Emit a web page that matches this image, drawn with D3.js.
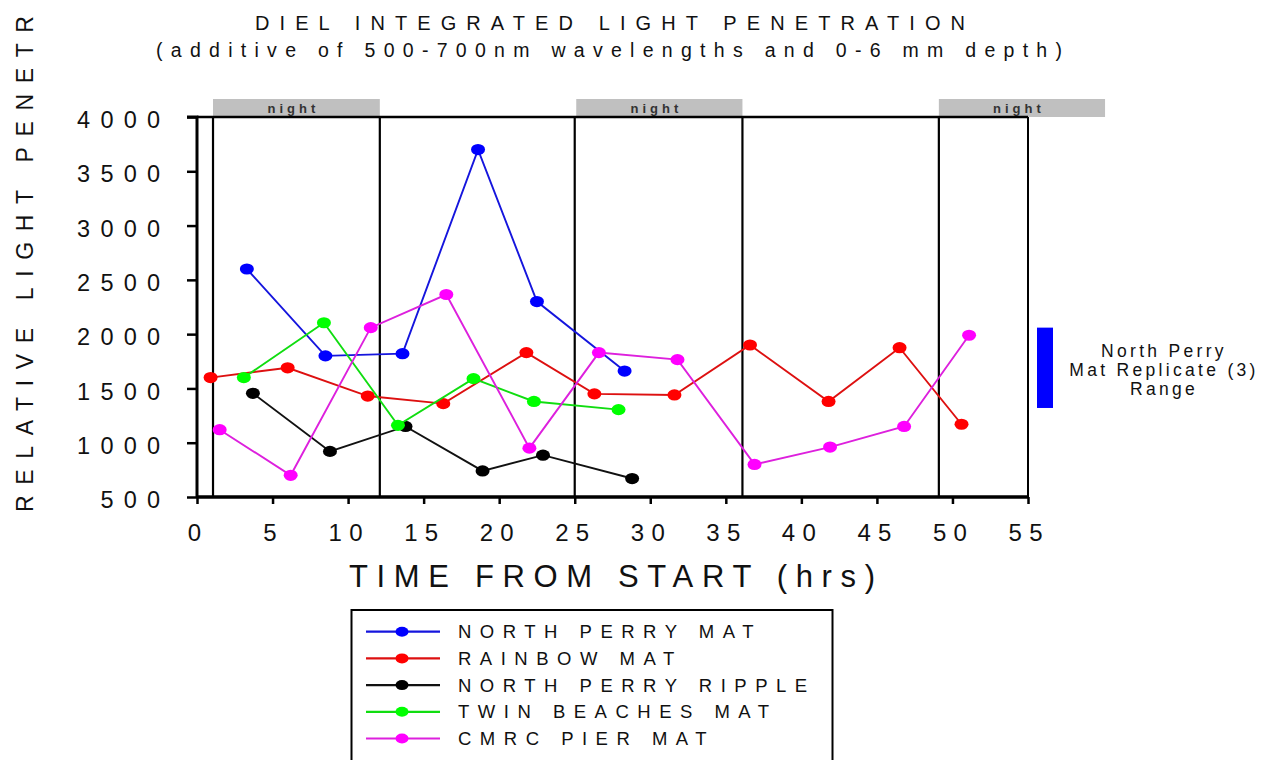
<!DOCTYPE html>
<html><head><meta charset="utf-8">
<script src="https://cdn.jsdelivr.net/npm/d3@7"></script>
<style>
body{margin:0;background:#fff;}
svg{display:block;}
text{font-family:"Liberation Sans", Arial, sans-serif;}
</style>
</head><body>
<svg id="chart" width="1276" height="760"></svg>
<script>
// ---------- DATA ----------
const titleText = "DIEL INTEGRATED LIGHT PENETRATION";
const subtitleText = "(additive of 500-700nm wavelengths and 0-6 mm depth)";
const xLabelText = "TIME FROM START (hrs)";
const yLabelText = "RELATIVE LIGHT PENETR";   // as visible in the reference (clipped there)
const xTicks = [0, 5, 10, 15, 20, 25, 30, 35, 40, 45, 50, 55];
const yTicks = [500, 1000, 1500, 2000, 2500, 3000, 3500, 4000];
const nightPeriods = [[1.06, 12.1], [25.1, 36.1], [49.1, 60.1]];
const nightLabel = "night";
const dividerTimes = [1.06, 12.1, 25.0, 36.1, 49.1];

const seriesNames = ["NORTH PERRY MAT", "RAINBOW MAT", "NORTH PERRY RIPPLE", "TWIN BEACHES MAT", "CMRC PIER MAT"];
const markerColors = ["#0000ff", "#ff0000", "#000000", "#00ff00", "#ff00ff"];
const lineColors = ["#1515dd", "#dd1010", "#111111", "#10dd10", "#dd20dd"];

const northPerryMatTime = [3.3, 8.5, 13.6, 18.6, 22.5, 28.3];
const northPerryMatValue = [2600, 1800, 1820, 3700, 2300, 1660];
const rainbowMatTime = [0.9, 6.0, 11.3, 16.3, 21.8, 26.3, 31.6, 36.6, 41.8, 46.5, 50.6];
const rainbowMatValue = [1600, 1690, 1430, 1360, 1830, 1450, 1440, 1900, 1380, 1875, 1170];
const northPerryRippleTime = [3.7, 8.8, 13.8, 18.9, 22.9, 28.8];
const northPerryRippleValue = [1455, 920, 1150, 740, 885, 670];
const twinBeachesMatTime = [3.1, 8.4, 13.3, 18.3, 22.3, 27.9];
const twinBeachesMatValue = [1600, 2105, 1160, 1590, 1380, 1305];
const cmrcPierMatTime = [1.5, 6.2, 11.5, 16.5, 22.0, 26.6, 31.8, 36.9, 41.9, 46.8, 51.1];
const cmrcPierMatValue = [1120, 700, 2060, 2365, 950, 1830, 1765, 800, 960, 1150, 1990];

const replicateRange = [1320, 2060];
const replicateLabel = ["North Perry", "Mat Replicate (3)", "Range"];

// ---------- BUILD ----------
const seriesTimes = [northPerryMatTime, rainbowMatTime, northPerryRippleTime, twinBeachesMatTime, cmrcPierMatTime];
const seriesValues = [northPerryMatValue, rainbowMatValue, northPerryRippleValue, twinBeachesMatValue, cmrcPierMatValue];
const series = seriesNames.map((name, i) => ({
  name, marker: markerColors[i], line: lineColors[i],
  points: seriesTimes[i].map((t, j) => ({t, v: seriesValues[i][j]}))
}));

const svg = d3.select("#chart");
const x = d3.scaleLinear().domain([0, 55]).range([197, 1028]);
const y = d3.scaleLinear().domain([500, 4000]).range([497, 117]);

// Titles
svg.append("text").attr("x", 610).attr("y", 30).attr("text-anchor", "middle")
  .attr("font-size", 20).attr("textLength", 710).attr("lengthAdjust", "spacing")
  .attr("fill", "#111").text(titleText);
svg.append("text").attr("x", 609).attr("y", 57).attr("text-anchor", "middle")
  .attr("font-size", 19.5).attr("textLength", 906).attr("lengthAdjust", "spacing")
  .attr("fill", "#111").text(subtitleText);

// Night bars
const nights = svg.append("g");
nights.selectAll("rect").data(nightPeriods).join("rect")
  .attr("x", d => x(d[0])).attr("width", d => x(d[1]) - x(d[0]))
  .attr("y", 99).attr("height", 18).attr("fill", "#c0c0c0");
nights.selectAll("text").data(nightPeriods).join("text")
  .attr("x", d => (x(d[0]) + x(d[1])) / 2 - 3).attr("y", 113)
  .attr("text-anchor", "middle").attr("font-size", 13).attr("font-weight", "bold")
  .attr("letter-spacing", "4px").attr("fill", "#333").text(nightLabel);

// Frame: top and right
svg.append("line").attr("x1", x(0)).attr("x2", x(55)).attr("y1", y(4000)).attr("y2", y(4000))
  .attr("stroke", "#000").attr("stroke-width", 2.5);
svg.append("line").attr("x1", x(55)).attr("x2", x(55)).attr("y1", y(4000)).attr("y2", y(500))
  .attr("stroke", "#000").attr("stroke-width", 2);

// Divider lines
svg.append("g").selectAll("line").data(dividerTimes).join("line")
  .attr("x1", d => x(d)).attr("x2", d => x(d)).attr("y1", y(4000)).attr("y2", y(500))
  .attr("stroke", "#000").attr("stroke-width", 2.2);

// Axes
const yAxis = d3.axisLeft(y).tickValues(yTicks).tickSize(10).tickPadding(27).tickFormat(d3.format("d"));
const gy = svg.append("g").attr("transform", `translate(${x(0)},0)`).call(yAxis);
gy.select(".domain").attr("stroke-width", 3).attr("d", `M-10,${y(4000)}H0V${y(500)}`);
gy.selectAll(".tick line").attr("stroke-width", 2.5);
gy.selectAll(".tick text").attr("font-size", 23.5).attr("font-family", "Liberation Sans, Arial, sans-serif")
  .attr("dy", "0.45em").attr("fill", "#111")
  .attr("textLength", d => 13 + (String(d).length - 1) * 23.3).attr("lengthAdjust", "spacing");

const xAxis = d3.axisBottom(x).tickValues(xTicks).tickSize(7).tickPadding(20).tickFormat(d3.format("d"));
const gx = svg.append("g").attr("transform", `translate(0,${y(500)})`).call(xAxis);
gx.select(".domain").attr("stroke-width", 3.5).attr("d", `M${x(0)},0H${x(55)}`);
gx.selectAll(".tick line").attr("stroke-width", 2.5);
gx.selectAll(".tick text").attr("font-size", 24).attr("font-family", "Liberation Sans, Arial, sans-serif")
  .attr("fill", "#111").attr("dx", -3)
  .each(function(d){ if (String(d).length > 1) d3.select(this).attr("textLength", 34).attr("lengthAdjust", "spacing"); });

// Axis labels
svg.append("text").attr("x", 612).attr("y", 587).attr("text-anchor", "middle")
  .attr("font-size", 31).attr("textLength", 526).attr("lengthAdjust", "spacing")
  .attr("fill", "#111").text(xLabelText);
svg.append("text").attr("transform", "translate(33,512) rotate(-90)").attr("text-anchor", "start")
  .attr("font-size", 23).attr("textLength", 496).attr("lengthAdjust", "spacing")
  .attr("fill", "#111").text(yLabelText);

// Series
const line = d3.line().x(d => x(d.t)).y(d => y(d.v));
const gs = svg.append("g");
series.forEach(s => {
  gs.append("path").datum(s.points).attr("d", line).attr("fill", "none")
    .attr("stroke", s.line).attr("stroke-width", 1.9);
  gs.append("g").selectAll("ellipse").data(s.points).join("ellipse")
    .attr("cx", d => x(d.t)).attr("cy", d => y(d.v)).attr("rx", 7).attr("ry", 5.6)
    .attr("fill", s.marker);
});

// Replicate range bar
svg.append("rect").attr("x", 1037).attr("width", 16)
  .attr("y", y(replicateRange[1])).attr("height", y(replicateRange[0]) - y(replicateRange[1]))
  .attr("fill", "#0000ff");
svg.append("g").selectAll("text").data(replicateLabel).join("text")
  .attr("x", 1164).attr("y", (d, i) => 357 + i * 19).attr("text-anchor", "middle")
  .attr("font-size", 17.5).attr("letter-spacing", "3.3px").attr("fill", "#111").text(d => d);

// Legend
const lg = svg.append("g");
lg.append("rect").attr("x", 351.5).attr("y", 610).attr("width", 481).attr("height", 170)
  .attr("fill", "#fff").attr("stroke", "#000").attr("stroke-width", 2);
const rows = lg.selectAll("g.row").data(series).join("g").attr("class", "row")
  .attr("transform", (d, i) => `translate(0,${631.7 + i * 26.7})`);
rows.append("line").attr("x1", 366).attr("x2", 440).attr("y1", 0).attr("y2", 0)
  .attr("stroke", d => d.line).attr("stroke-width", 2.2);
rows.append("ellipse").attr("cx", 402).attr("cy", 0).attr("rx", 6.5).attr("ry", 5)
  .attr("fill", d => d.marker);
rows.append("text").attr("x", 458).attr("y", 0).attr("dy", "0.36em")
  .attr("font-size", 18.5).attr("letter-spacing", "8.5px").attr("fill", "#111").text(d => d.name);
</script>
</body></html>
